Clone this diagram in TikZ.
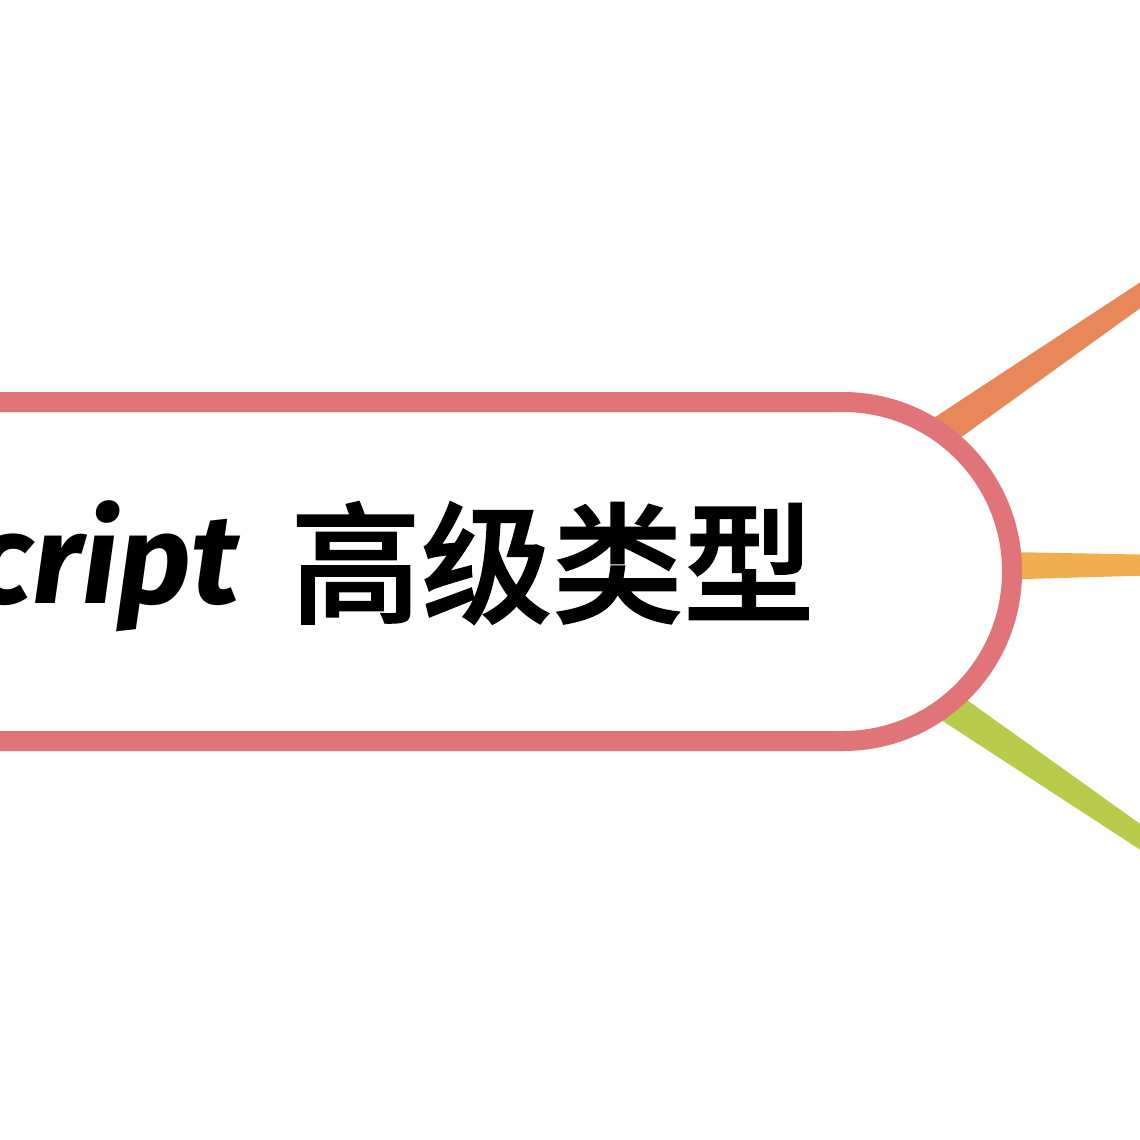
\documentclass[tikz,border=0pt]{standalone}
\usepackage{fontspec}
\setmainfont{Fira Sans}
\newfontfamily\cjk{Noto Sans CJK SC}[UprightFont={* Medium}, FakeBold=1.3]
\usetikzlibrary{calc,backgrounds}
\definecolor{rootc}{HTML}{E07478}
\definecolor{bra}{HTML}{E8875A}
\definecolor{brb}{HTML}{F0AE4E}
\definecolor{brc}{HTML}{B8CB4A}
\tikzset{
  rootbox/.style={draw=rootc, line width=20pt, fill=white, rectangle,
    rounded corners=169pt, minimum width=1400pt, minimum height=339pt, inner sep=0pt},
  latintext/.style={font=\fontsize{127}{134}\selectfont\bfseries\itshape, inner sep=0pt},
  cjktext/.style={font=\cjk\fontsize{131}{138}\selectfont, inner sep=0pt},
}
\newcommand{\branchpoly}[4]{%
  \fill[#1] ($(#2)!#3!90:(#4)$) -- ($(#4)!10pt!-90:(#2)$) -- ($(#4)!10pt!90:(#2)$) -- ($(#2)!#3!-90:(#4)$) -- cycle;}
\begin{document}
\begin{tikzpicture}[x=1pt,y=-1pt]
  \useasboundingbox (0,0) rectangle (1140,1140);
  \fill[white] (0,0) rectangle (1140,1140);
  \clip (0,0) rectangle (1140,1140);
  \coordinate (hub) at (745,567);
  \coordinate (e1) at (1165,278);
  \coordinate (e2) at (1165,565);
  \coordinate (e3) at (1165,854);
  \branchpoly{bra}{hub}{21pt}{e1}
  \branchpoly{brb}{hub}{20pt}{e2}
  \branchpoly{brc}{hub}{21pt}{e3}
  \node[rootbox] (root) at (312,571.5) {};
  \node[latintext, anchor=base east] (lat) at (239,603) {cript};
  \node[cjktext, anchor=west] (zh) at (290,563) {高级类型};
\end{tikzpicture}
\end{document}
